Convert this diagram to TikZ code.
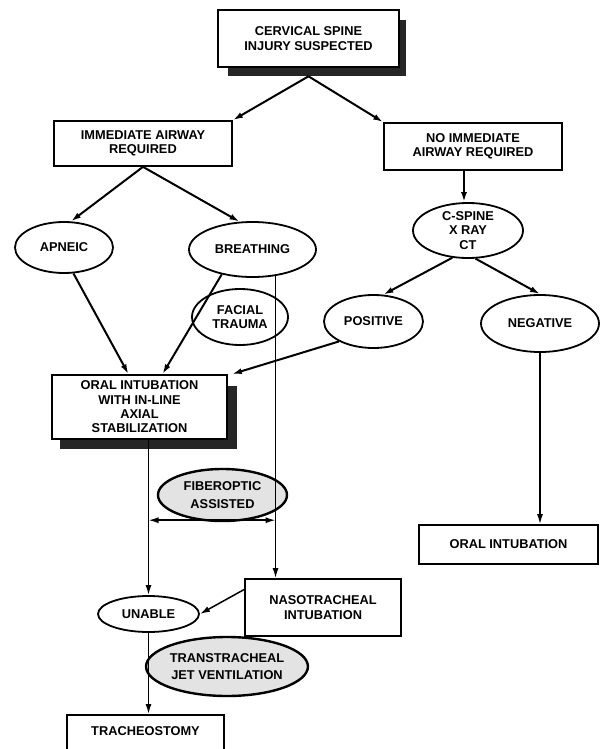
\documentclass[tikz,border=0pt]{standalone}
\usepackage{fontspec}
\setmainfont{Liberation Sans}
\usetikzlibrary{shapes.geometric,arrows.meta}
\begin{document}
\begin{tikzpicture}[x=1pt,y=-1pt,
 every node/.style={font=\bfseries\fontsize{12.8}{14.3}\selectfont, align=center, inner sep=0pt},
 box/.style={draw, rectangle, line width=1.7pt, fill=white},
 oval/.style={draw, ellipse, line width=1.8pt, fill=white},
 shadedoval/.style={draw, ellipse, line width=2.4pt, fill=gray!22},
 arr/.style={-{Latex[length=10pt,width=6pt]}, line width=2pt},
 vline/.style={-{Latex[length=10pt,width=6pt]}, line width=1.5pt},
 dbl/.style={{Latex[length=10pt,width=6pt]}-{Latex[length=10pt,width=6pt]}, line width=1.5pt},
 shadowfill/.style={fill=black!85}]
\useasboundingbox (0,0) rectangle (603,749);
\fill[white] (0,0) rectangle (603,749);

% shadows
\fill[shadowfill] (228,20) rectangle (406,76);
\fill[shadowfill] (60,386) rectangle (237,449);

% nodes
\node[box, line width=2.6pt, minimum width=181pt, minimum height=57pt] (top) at (308.5,38.5) {CERVICAL SPINE\\INJURY SUSPECTED};
\node[box, minimum width=178pt, minimum height=45pt] (imm) at (143,143.5) {IMMEDIATE AIRWAY\\REQUIRED};
\node[box, minimum width=178pt, minimum height=47pt] (noimm) at (473,146.5) {NO IMMEDIATE\\AIRWAY REQUIRED};
\node[oval, minimum width=98pt, minimum height=51pt] (apneic) at (64,247.5) {APNEIC};
\node[oval, minimum width=127pt, minimum height=55pt] (breath) at (252.5,249.5) {BREATHING};
\node[oval, minimum width=96pt, minimum height=56pt] (facial) at (240,317) {FACIAL\\TRAUMA};
\node[oval, minimum width=110pt, minimum height=55pt] (cspine) at (468,230.5) {C-SPINE\\X RAY\\CT};
\node[oval, minimum width=99pt, minimum height=53pt] (pos) at (373.5,321.5) {POSITIVE};
\node[oval, minimum width=118pt, minimum height=57pt] (neg) at (540,323.5) {NEGATIVE};
\node[box, minimum width=175pt, minimum height=64pt] (oral) at (139.5,407) {ORAL INTUBATION\\WITH IN-LINE\\AXIAL\\STABILIZATION};
\node[box, minimum width=179pt, minimum height=39pt] (oralint) at (508.5,544.5) {ORAL INTUBATION};
\node[shadedoval, minimum width=129pt, minimum height=52pt] (fiber) at (222.5,495) {FIBEROPTIC\\[3pt]ASSISTED};
\node[oval, minimum width=101pt, minimum height=36pt] (unable) at (148.5,614) {UNABLE};
\node[box, minimum width=156pt, minimum height=57pt] (naso) at (323,607.5) {NASOTRACHEAL\\INTUBATION};
\node[shadedoval, minimum width=158pt, minimum height=59pt] (trans) at (227,666.5) {TRANSTRACHEAL\\[3pt]JET VENTILATION};
\node[box, minimum width=157pt, anchor=north, inner ysep=12pt, text height=9pt, text depth=40pt] (trach) at (145.5,714) {TRACHEOSTOMY};

% connectors
\draw[arr] ([yshift=-8pt]top.south) -- (imm.north east);
\draw[arr] ([yshift=-8pt]top.south) -- (noimm.north west);
\draw[arr] (imm.south) -- (apneic.75);
\draw[arr] (imm.south) -- (breath.115);
\draw[arr] ([xshift=-9pt]noimm.south) -- ([xshift=-9pt]noimm.south |- cspine.north);
\draw[arr] (cspine.-120) -- (pos.70);
\draw[arr] (cspine.-75) -- (neg.north);
\draw[arr] (apneic.-70) -- ([xshift=-11pt]oral.north);
\draw[arr] (breath.-141) -- ([xshift=23pt]oral.north);
\draw[arr] (pos.-150) -- ([xshift=4pt]oral.north east);
\draw[vline] (breath.-49) -- (breath.-49 |- naso.north);
\draw[vline] (neg.south) -- (neg.south |- oralint.north);
\draw[vline] (unable.north |- oral.south) -- (unable.north);
\draw[dbl] ([yshift=2pt]unable.north |- fiber.south) -- ([yshift=2pt]breath.-49 |- fiber.south);
\draw[arr, line width=1.5pt] ([yshift=18pt]naso.west) -- (unable.east);
\draw[vline] (unable.south) -- (unable.south |- trach.north);
\end{tikzpicture}
\end{document}
